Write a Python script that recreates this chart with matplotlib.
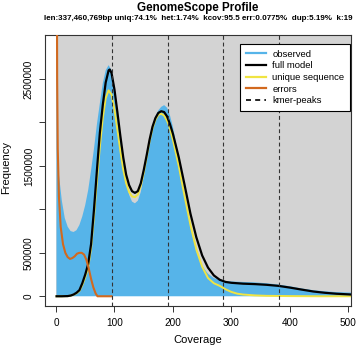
import matplotlib
matplotlib.use("Agg")
import matplotlib.pyplot as plt
import numpy as np
from matplotlib.lines import Line2D

# ---------------- data ----------------
obs_x = [1, 2, 5, 10, 15, 20, 25, 30, 35, 40, 45, 50, 55, 60, 65, 70, 75, 80, 85, 90, 95,
         100, 105, 110, 115, 120, 125, 130, 135, 140, 145, 150, 155, 160, 165, 170, 175,
         180, 185, 190, 195, 200, 210, 220, 230, 240, 250, 260, 270, 280, 290, 300, 320,
         340, 360, 380, 400, 420, 440, 460, 480, 500, 505]
obs_y = [20.0, 1.65, 1.4, 1.1, 0.9, 0.8, 0.75, 0.74, 0.76, 0.82, 0.92, 1.05, 1.22, 1.45,
         1.7, 1.98, 2.22, 2.45, 2.6, 2.66, 2.6, 2.42, 2.15, 1.85, 1.55, 1.32, 1.17, 1.09,
         1.07, 1.1, 1.2, 1.38, 1.58, 1.78, 1.95, 2.07, 2.14, 2.18, 2.2, 2.17, 2.08, 1.95,
         1.6, 1.18, 0.8, 0.52, 0.35, 0.26, 0.21, 0.185, 0.175, 0.17, 0.165, 0.16, 0.15,
         0.135, 0.115, 0.09, 0.07, 0.057, 0.048, 0.043, 0.042]

model_x = [1, 10, 20, 25, 30, 35, 40, 45, 50, 55, 60, 65, 70, 75, 80, 85, 90, 92, 95, 100,
           105, 110, 115, 120, 125, 130, 135, 140, 145, 150, 155, 160, 165, 170, 175, 180,
           185, 190, 195, 200, 210, 220, 230, 240, 250, 260, 270, 280, 290, 300, 320, 340,
           360, 380, 400, 420, 440, 460, 480, 500, 505]
model_y = [0.0, 0.0, 0.002, 0.008, 0.02, 0.04, 0.07, 0.15, 0.25, 0.37, 0.6, 1.0, 1.45,
           1.88, 2.2, 2.46, 2.6, 2.61, 2.57, 2.38, 2.12, 1.85, 1.6, 1.4, 1.28, 1.21, 1.19,
           1.21, 1.3, 1.45, 1.62, 1.8, 1.95, 2.05, 2.11, 2.13, 2.12, 2.07, 1.98, 1.87, 1.6,
           1.28, 0.95, 0.68, 0.47, 0.33, 0.24, 0.19, 0.165, 0.155, 0.145, 0.14, 0.132, 0.12,
           0.1, 0.077, 0.055, 0.04, 0.029, 0.022, 0.02]

uniq_x = [1, 10, 20, 25, 30, 35, 40, 45, 50, 55, 60, 65, 70, 75, 80, 85, 90, 95, 100, 105,
          110, 115, 120, 125, 130, 135, 140, 145, 150, 155, 160, 165, 170, 175, 180, 185,
          190, 195, 200, 210, 220, 230, 240, 250, 260, 270, 280, 290, 300, 310, 320, 340,
          360, 400, 450, 505]
uniq_y = [0.0, 0.0, 0.002, 0.007, 0.018, 0.035, 0.06, 0.13, 0.22, 0.33, 0.55, 0.92, 1.33,
          1.72, 2.05, 2.28, 2.37, 2.32, 2.15, 1.92, 1.68, 1.46, 1.3, 1.2, 1.15, 1.14, 1.17,
          1.27, 1.42, 1.6, 1.78, 1.93, 2.03, 2.09, 2.1, 2.08, 2.02, 1.93, 1.8, 1.5, 1.15,
          0.82, 0.54, 0.34, 0.21, 0.15, 0.12, 0.08, 0.05, 0.03, 0.02, 0.01, 0.005, 0.002,
          0.0, 0.0]

err_x = [1, 2, 3, 5, 8, 12, 16, 20, 24, 28, 32, 36, 40, 44, 48, 52, 56, 60, 64, 68, 71, 95]
err_y = [5.0, 2.5, 1.7, 1.15, 0.8, 0.6, 0.5, 0.45, 0.43, 0.44, 0.46, 0.49, 0.5, 0.5, 0.48,
         0.42, 0.32, 0.2, 0.1, 0.03, 0.0, 0.0]

kcov = 95.5
peak_mult = [1, 2, 3, 4]

title = "GenomeScope Profile"
subtitle = "len:337,460,769bp uniq:74.1%  het:1.74%  kcov:95.5 err:0.0775%  dup:5.19%  k:19"
xticks = [0, 100, 200, 300, 400, 500]
yticks = [0, 500000, 1000000, 1500000, 2000000, 2500000]
ytick_labels = ["0", "500000", "", "1500000", "", "2500000"]
legend_labels = ["observed", "full model", "unique sequence", "errors", "kmer-peaks"]

C_BG = "#D3D3D3"
C_HIST = "#56B4E9"
C_MODEL = "black"
C_UNIQ = "#F0E442"
C_ERR = "#D2691E"

# ---------------- figure ----------------
plt.rcParams['font.family'] = ['Liberation Sans', 'DejaVu Sans']
W, H = 358, 347
fig = plt.figure(figsize=(W / 100, H / 100), dpi=100)
L, R, T, B = 45, 351, 35, 306
ax = fig.add_axes([L / W, 1 - B / H, (R - L) / W, (B - T) / H])

M = 1e6
ax.set_xlim(-18.8, 504.6)
ax.set_ylim(-0.112e6, 3.007e6)

ax.add_patch(plt.Rectangle((0, 0), 600, 5e6, facecolor=C_BG, edgecolor='none', zorder=0))
ax.fill_between(obs_x, 0, np.array(obs_y) * M, color=C_HIST, linewidth=0, zorder=1)
ax.plot(model_x, np.array(model_y) * M, color=C_MODEL, lw=1.6, zorder=3)
ax.plot(uniq_x, np.array(uniq_y) * M, color=C_UNIQ, lw=1.4, zorder=2.5)
ax.plot(err_x, np.array(err_y) * M, color=C_ERR, lw=1.5, zorder=3.5)
for m in peak_mult:
    ax.axvline(kcov * m, color='#333333', lw=0.8, ls=(0, (3.5, 2.5)), zorder=4)

ax.set_xticks(xticks)
ax.set_xticklabels([str(v) for v in xticks])
ax.set_yticks(yticks)
ax.set_yticklabels(ytick_labels, rotation=90, va='center')
ax.tick_params(axis='both', direction='out', length=4, width=0.7, labelsize=7.2,
               color='#333333')
ax.tick_params(axis='x', pad=5)
ax.tick_params(axis='y', pad=4)
for s in ax.spines.values():
    s.set_linewidth(0.8)
    s.set_color('#333333')

handles = [Line2D([], [], color=C_HIST, lw=1.6),
           Line2D([], [], color=C_MODEL, lw=1.6),
           Line2D([], [], color=C_UNIQ, lw=1.6),
           Line2D([], [], color=C_ERR, lw=1.6),
           Line2D([], [], color='black', lw=1.2, ls=(0, (3, 2.5)))]
leg = ax.legend(handles, legend_labels, loc='upper right',
                bbox_to_anchor=((350 - L) / (R - L), 1 - (44 - T) / (B - T)),
                borderaxespad=0, fontsize=6.8, frameon=True, fancybox=False,
                framealpha=1, edgecolor='black', handlelength=2.1, handletextpad=0.7,
                labelspacing=0.28, borderpad=0.6)
leg.get_frame().set_linewidth(0.8)
leg.set_zorder(10)

fig.text(198 / W, 1 - 7.5 / H, title, ha='center', va='center', fontsize=8.4,
         fontweight='bold')
fig.text(198 / W, 1 - 18.5 / H, subtitle, ha='center', va='center', fontsize=5.72,
         fontweight='bold')
fig.text(198 / W, 1 - 340 / H, "Coverage", ha='center', va='center', fontsize=8)
fig.text(6.5 / W, 1 - 167 / H, "Frequency", ha='center', va='center', fontsize=8,
         rotation=90)

fig.savefig("out.png", dpi=100)
